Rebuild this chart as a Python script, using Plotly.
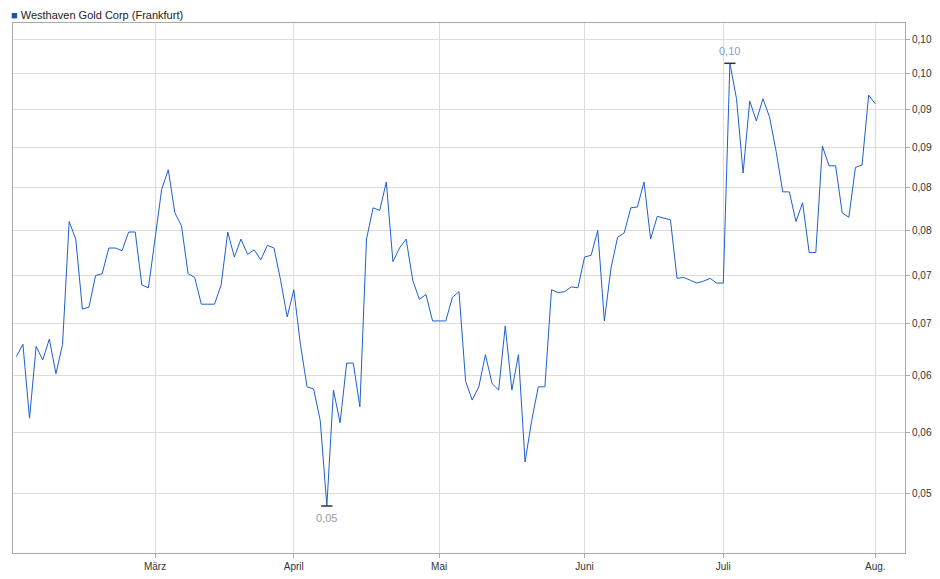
import pandas as pd
import numpy as np
import plotly.graph_objects as go

prices = [0.0668, 0.068, 0.0612, 0.0678, 0.0665, 0.0685, 0.0652, 0.068, 0.081, 0.079,
          0.0715, 0.0717, 0.075, 0.0752, 0.078, 0.078, 0.0777, 0.0798, 0.0798, 0.074,
          0.0737, 0.079, 0.0848, 0.0872, 0.082, 0.0805, 0.0752, 0.0748, 0.072, 0.072,
          0.072, 0.074, 0.0798, 0.077, 0.079, 0.0773, 0.0778, 0.0767, 0.0783, 0.078,
          0.0745, 0.0707, 0.0735, 0.068, 0.064, 0.0638, 0.061, 0.054, 0.0637, 0.0608,
          0.0662, 0.0662, 0.0622, 0.079, 0.0826, 0.0823, 0.0857, 0.0765, 0.078, 0.079,
          0.0745, 0.0725, 0.073, 0.0703, 0.0703, 0.0703, 0.0727, 0.0733, 0.0645, 0.0628,
          0.064, 0.067, 0.0643, 0.0637, 0.0698, 0.0637, 0.067, 0.0575, 0.061, 0.064,
          0.064, 0.0735, 0.0732, 0.0733, 0.0738, 0.0737, 0.077, 0.0772, 0.080, 0.0703,
          0.0758, 0.0792, 0.0797, 0.0826, 0.0827, 0.0857, 0.079, 0.0816, 0.0814, 0.0812,
          0.0747, 0.0748, 0.0745, 0.0742, 0.0744, 0.0747, 0.0742, 0.0742, 0.1015, 0.0965,
          0.0868, 0.0962, 0.0935, 0.0965, 0.094, 0.0895, 0.0845, 0.0845, 0.081, 0.0832,
          0.0775, 0.0775, 0.0902, 0.0877, 0.0877, 0.082, 0.0815, 0.0875, 0.0878, 0.097,
          0.0958]
dates = pd.bdate_range("2025-01-31", periods=len(prices))

month_ticks = ["2025-03-03", "2025-04-01", "2025-05-01", "2025-06-02", "2025-07-01", "2025-08-01"]
month_labels = ["März", "April", "Mai", "Juni", "Juli", "Aug."]
y_ticks = [0.055, 0.060, 0.065, 0.070, 0.075, 0.080, 0.085, 0.090, 0.095, 0.100, 0.105]

fig = go.Figure()
fig.add_trace(go.Scatter(x=dates, y=prices, mode="lines",
                         line=dict(color="#1f5fcf", width=1), showlegend=False))

i_max = int(np.argmax(prices))
i_min = int(np.argmin(prices))
fig.add_trace(go.Scatter(x=[dates[i_max], dates[i_min]], y=[prices[i_max], prices[i_min]],
                         mode="markers", marker=dict(symbol="line-ew", size=8,
                         line=dict(color="#333", width=1.5)), showlegend=False))
fig.add_annotation(x=dates[i_max], y=np.log10(prices[i_max]), text="0,10", showarrow=False,
                   yshift=12, font=dict(size=11, color="#7fa3d6"))
fig.add_annotation(x=dates[i_min], y=np.log10(prices[i_min]), text="0,05", showarrow=False,
                   yshift=-12, font=dict(size=11, color="#999"))
fig.add_annotation(xref="paper", yref="paper", x=-0.004, y=1.0, yanchor="bottom", xanchor="left",
                   text="<span style='color:#1f4fa8'>■</span> Westhaven Gold Corp (Frankfurt)",
                   showarrow=False, font=dict(size=11, color="#222"))

fig.update_layout(
    width=940, height=579, margin=dict(l=5, r=43, t=15, b=34, autoexpand=False),
    plot_bgcolor="white", paper_bgcolor="white", separators=",.",
    font=dict(family="Liberation Sans, Arial", size=10, color="#333"),
    xaxis=dict(range=["2025-01-30 12:00", "2025-08-07 12:00"], tickvals=month_ticks,
               ticktext=month_labels, rangebreaks=[dict(bounds=["sat", "mon"])],
               automargin=False, showgrid=True, gridcolor="#dcdcdc", showline=True,
               linecolor="#aaa", ticks="outside", ticklen=4, tickcolor="#aaa", mirror=True),
    yaxis=dict(type="log", side="right", range=[np.log10(0.0505), np.log10(0.1075)],
               tickvals=y_ticks, tickformat=".3f", automargin=False, showgrid=True,
               gridcolor="#dcdcdc", showline=True, linecolor="#aaa", ticks="outside",
               ticklen=4, tickcolor="#aaa", mirror=True),
)
fig.write_html("out.html")
